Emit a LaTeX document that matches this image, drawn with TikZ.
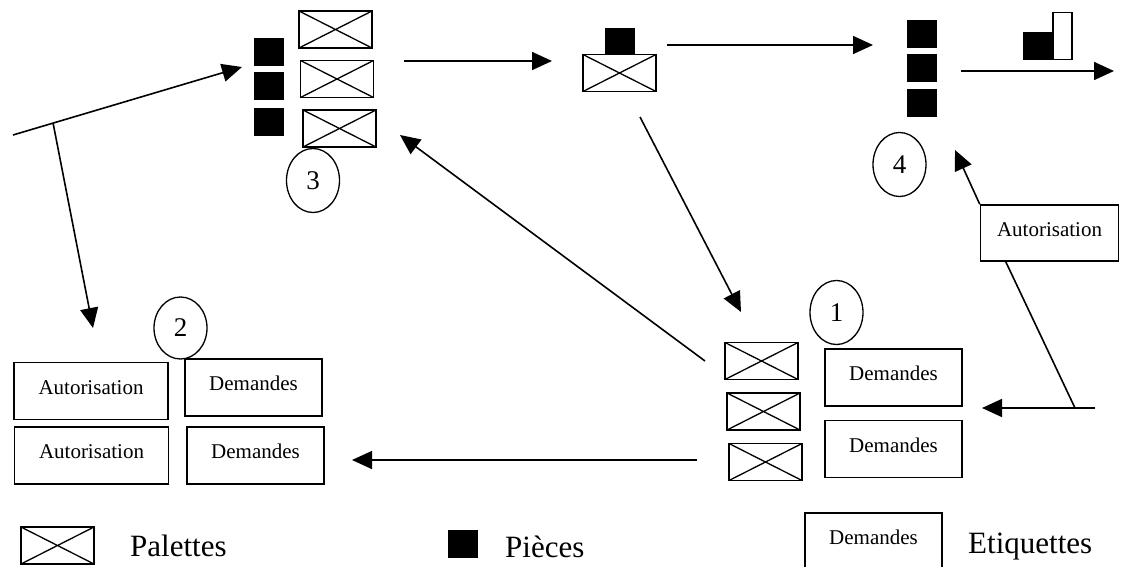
\documentclass[tikz,border=0pt]{standalone}
\usepackage{fontspec}
\setmainfont{Liberation Serif}
\usetikzlibrary{arrows.meta, shapes.geometric, positioning, calc}

\begin{document}
\begin{tikzpicture}[
    x=1pt, y=-1pt,
    node distance=6pt,
    palette/.style={draw, line width=1.5pt, inner sep=0pt, minimum width=73pt, minimum height=37pt,
                    path picture={\draw[line width=1.3pt] (path picture bounding box.north west) -- (path picture bounding box.south east)
                                  (path picture bounding box.south west) -- (path picture bounding box.north east);}},
    piece/.style={fill=black, inner sep=0pt, minimum width=30pt, minimum height=28pt},
    etiq/.style={draw, line width=1.5pt, inner sep=0pt, minimum width=137pt, minimum height=57pt,
                 font=\fontsize{21}{25}\selectfont, text height=14pt, text depth=8pt},
    num/.style={draw, ellipse, line width=1.3pt, inner sep=0pt, minimum width=53pt, minimum height=64pt,
                font=\fontsize{27}{31}\selectfont},
    legende/.style={anchor=base west, inner sep=0pt, font=\fontsize{31}{36}\selectfont},
    fleche/.style={-{Triangle[length=20pt, width=18pt]}, line width=1.6pt}
  ]
  \clip (0,0) rectangle (1122,567);
  \node[piece] (p3a) at (269,52) {};
  \node[piece, below=of p3a] (p3b) {};
  \node[piece, below=7pt of p3b] (p3c) {};
  \node[palette] (pal3a) at (335.5,29.5) {};
  \node[palette, below=11pt of pal3a, xshift=1.5pt] (pal3b) {};
  \node[palette, below=11pt of pal3b, xshift=2.5pt] (pal3c) {};
  \node[num] (n3) at (313,180.5) {3};
  \node[palette] (pal0) at (619.5,73) {};
  \node[piece, minimum height=26pt, above=0pt of pal0] (p0) {};
  \node[piece] (p4a) at (922,34) {};
  \node[piece, below=of p4a] (p4b) {};
  \node[piece, below=of p4b] (p4c) {};
  \node[num] (n4) at (899.5,164.5) {4};
  \node[piece, minimum width=29pt] (ps) at (1037.5,46) {};
  \node[draw, line width=1.5pt, inner sep=0pt, minimum width=19pt, minimum height=47pt, anchor=south west] (ets) at (ps.south east) {};
  \node[etiq, minimum width=138pt, minimum height=56pt] (aut4) at (1049.5,233) {Autorisation};
  \node[num] (n1) at (836.5,312.5) {1};
  \node[palette] (pal1a) at (761.5,361) {};
  \node[palette, below=12pt of pal1a, xshift=2pt] (pal1b) {};
  \node[palette, below=12pt of pal1b, xshift=2pt] (pal1c) {};
  \node[etiq] (dem1a) at (893.5,377.5) {Demandes};
  \node[etiq, below=13pt of dem1a] (dem1b) {Demandes};
  \node[num, minimum height=62pt] (n2) at (180.5,328) {2};
  \node[etiq, minimum width=154pt] (aut2a) at (91,391) {Autorisation};
  \node[etiq, minimum width=154pt] (aut2b) at (91.5,455.5) {Autorisation};
  \node[etiq] (dem2a) at (253.5,387.5) {Demandes};
  \node[etiq] (dem2b) at (255.5,455.5) {Demandes};
  \node[palette] (lpal) at (57.5,545.5) {};
  \node[legende] (lpaltxt) at (130,556) {Palettes};
  \node[piece] (lpce) at (463,544) {};
  \node[legende] (lpcetxt) at (505,557) {Pièces};
  \node[etiq, minimum height=64pt, text depth=16pt] (ldem) at (873.5,545) {Demandes};
  \node[legende] (ldemtxt) at (968,553) {Etiquettes};
  \coordinate (g0) at (13,135);
  \coordinate (g1) at (242,67);
  \coordinate (g2) at (93,328);
  \coordinate (a0) at (404,61);
  \coordinate (a1) at (552,61);
  \coordinate (b0) at (667,45);
  \coordinate (b1) at (873,45);
  \coordinate (c0) at (961,71);
  \coordinate (c1) at (1114,71);
  \coordinate (d0) at (640,117);
  \coordinate (d1) at (741,312);
  \coordinate (e0) at (705,361);
  \coordinate (e1) at (400,135);
  \coordinate (f0) at (697,460);
  \coordinate (f1) at (352,460);
  \coordinate (h1) at (955,150);
  \coordinate (jonc) at (1075,408);
  \coordinate (k0) at (1095,408);
  \coordinate (k1) at (982,408);
  \draw[fleche] (g0) -- (g1);
  \draw[fleche] ($(g0)!0.175!(g1)$) -- (g2);
  \draw[fleche] (a0) -- (a1);
  \draw[fleche] (b0) -- (b1);
  \draw[fleche] (c0) -- (c1);
  \draw[fleche] (d0) -- (d1);
  \draw[fleche] (e0) -- (e1);
  \draw[fleche] (f0) -- (f1);
  \draw[fleche] (aut4.north west) -- (h1);
  \draw[line width=1.6pt] (aut4.south west) ++(26,0) -- (jonc);
  \draw[fleche] (k0) -- (k1);
\end{tikzpicture}
\end{document}
